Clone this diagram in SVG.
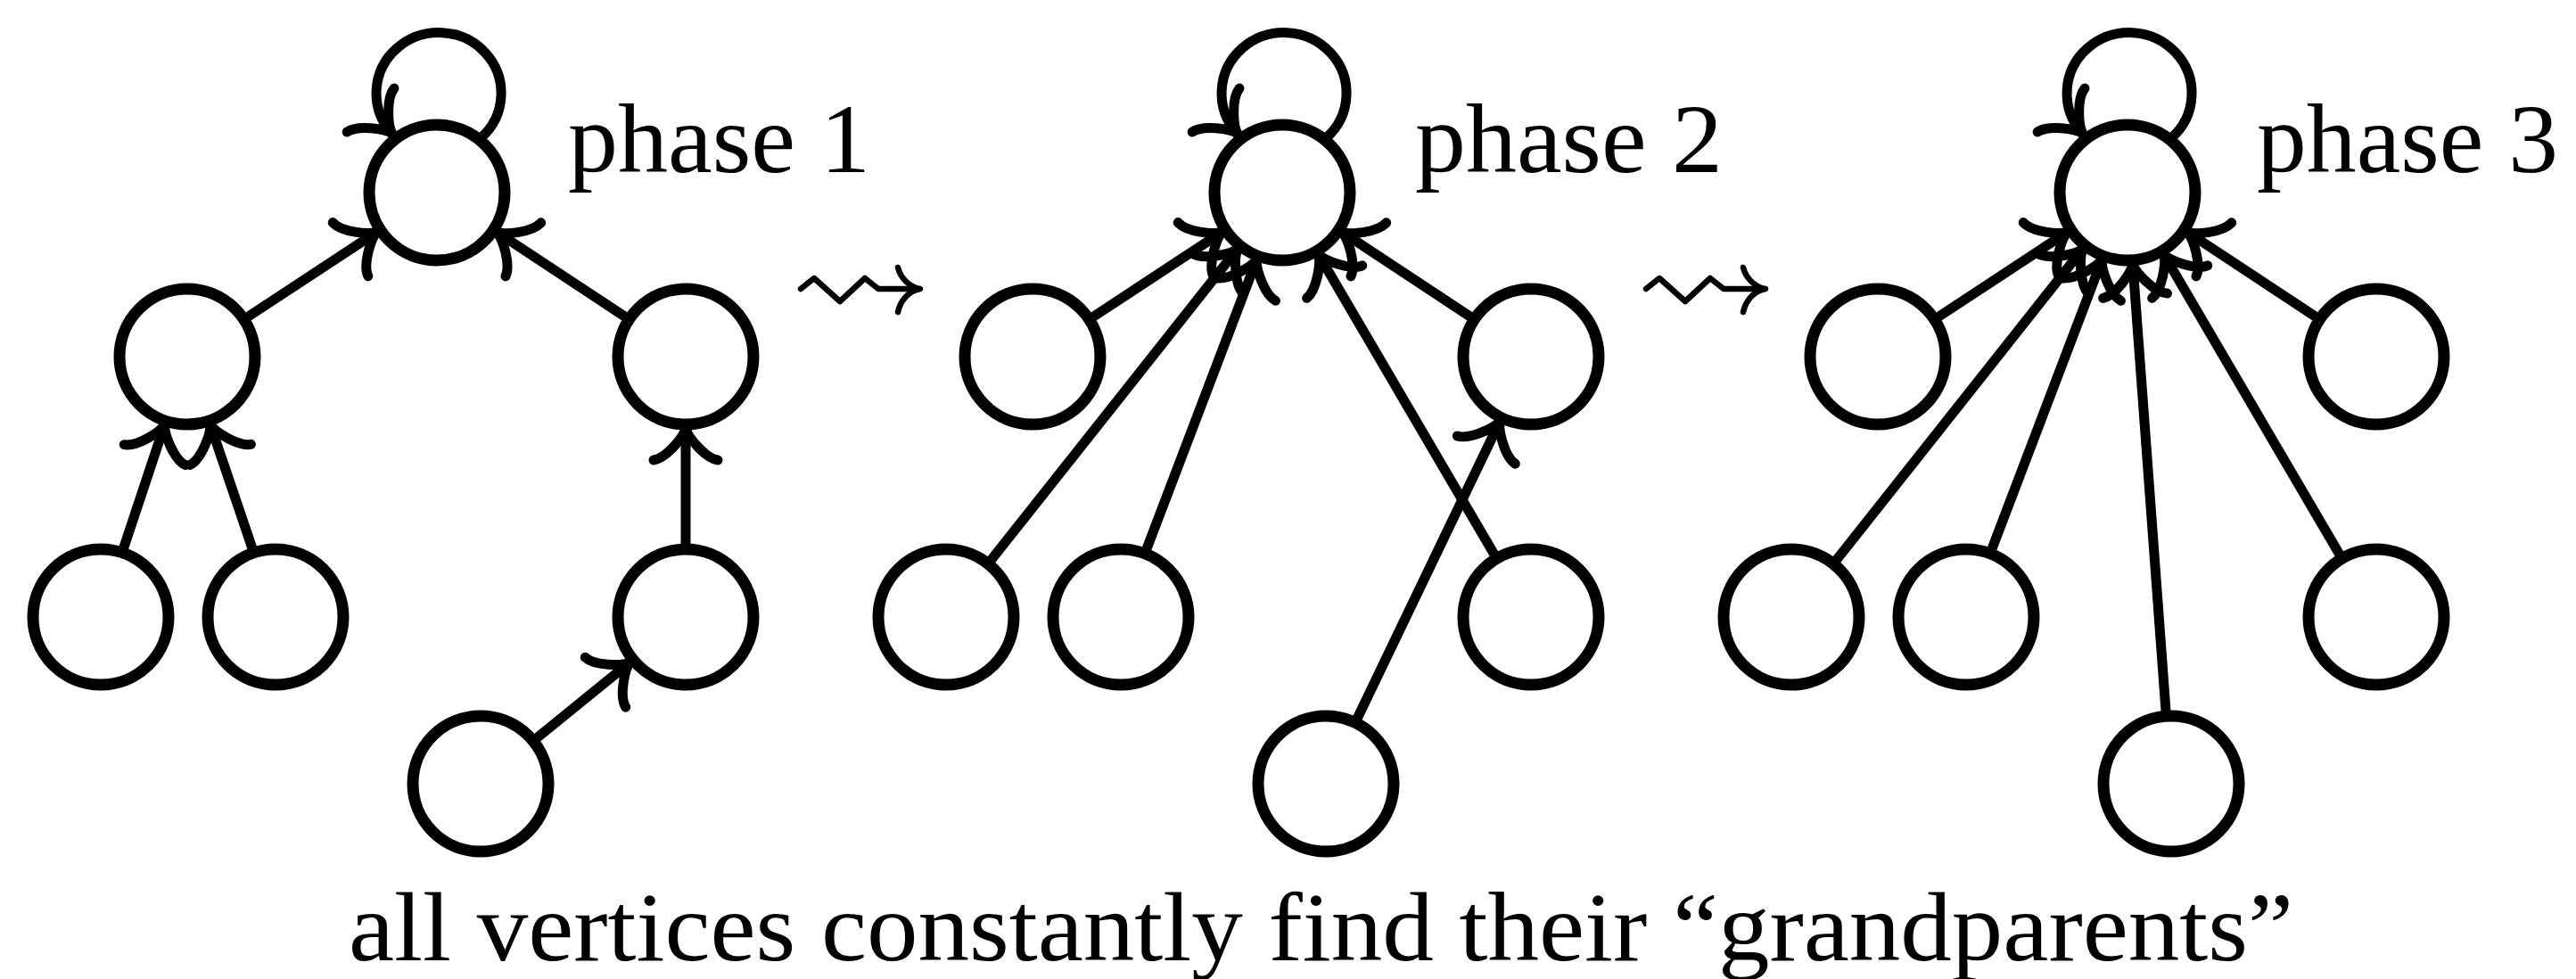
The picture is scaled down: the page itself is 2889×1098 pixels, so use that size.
<svg xmlns="http://www.w3.org/2000/svg" width="2889" height="1098" viewBox="0 0 2889 1098">
  <style>
    .node { fill: #fff; stroke: #000; stroke-width: 13; }
    .edge { fill: none; stroke: #000; stroke-width: 11; marker-end: url(#to); }
    .squig { fill: none; stroke: #000; stroke-width: 6.5; stroke-linejoin: round; stroke-linecap: round; }
    .lbl { font-family: "Liberation Serif", "Times New Roman", serif; font-size: 110px; fill: #000; }
  </style>
  <defs>
    <!-- curved "to" style arrow tip, tip at the origin pointing along +x -->
    <marker id="to" markerUnits="userSpaceOnUse" markerWidth="100" markerHeight="100" viewBox="-50 -50 100 100" refX="0" refY="0" orient="auto" overflow="visible">
      <path d="M -36,-36 C -34,-22 -10,-2 0,0 C -10,2 -34,22 -36,36" fill="none" stroke="#000" stroke-width="11" stroke-linecap="round"/>
    </marker>
  </defs>
  <rect width="2889" height="1098" fill="#fff"/>

  <!-- connectors -->
  <g id="connectors">
    <!-- phase 1 -->
    <path class="edge" d="M 539,155 A 70,68 0 1 0 440,150"/>
    <line class="edge" x1="278.5" y1="355" x2="423.1" y2="259.9"/>
    <line class="edge" x1="700.5" y1="354.9" x2="556.8" y2="260"/>
    <line class="edge" x1="138.8" y1="614.2" x2="184.8" y2="475.9"/>
    <line class="edge" x1="282.7" y1="614.3" x2="235.7" y2="475.8"/>
    <line class="edge" x1="769" y1="610" x2="769" y2="480"/>
    <line class="edge" x1="602.6" y1="827.3" x2="706.9" y2="742.5"/>

    <!-- phase 2 -->
    <path class="edge" d="M 1487,155 A 70,68 0 1 0 1388,150"/>
    <line class="edge" x1="1226.5" y1="355" x2="1371.1" y2="259.9"/>
    <line class="edge" x1="1648.5" y1="354.9" x2="1504.8" y2="260"/>
    <line class="edge" x1="1111.9" y1="627.7" x2="1388.3" y2="278.7"/>
    <line class="edge" x1="1286.1" y1="615.4" x2="1409.6" y2="290.8"/>
    <line class="edge" x1="1675.5" y1="621.3" x2="1478.5" y2="285"/>
    <line class="edge" x1="1522.5" y1="805.1" x2="1682.4" y2="472.1"/>

    <!-- phase 3 -->
    <path class="edge" d="M 2435,155 A 70,68 0 1 0 2336,150"/>
    <line class="edge" x1="2174.5" y1="355" x2="2319.1" y2="259.9"/>
    <line class="edge" x1="2596.5" y1="354.9" x2="2452.8" y2="260"/>
    <line class="edge" x1="2059.9" y1="627.7" x2="2336.3" y2="278.7"/>
    <line class="edge" x1="2234.1" y1="615.4" x2="2357.6" y2="290.8"/>
    <line class="edge" x1="2623.5" y1="621.3" x2="2426.5" y2="285"/>
    <line class="edge" x1="2429" y1="797.2" x2="2391.9" y2="295.8"/>
  </g>

  <!-- phase 1 nodes -->
  <g id="p1-root"><circle class="node" cx="490" cy="216" r="76"/></g>
  <g id="p1-a"><circle class="node" cx="210" cy="400" r="76"/></g>
  <g id="p1-b"><circle class="node" cx="769" cy="400" r="76"/></g>
  <g id="p1-c"><circle class="node" cx="113" cy="692" r="76"/></g>
  <g id="p1-d"><circle class="node" cx="309" cy="692" r="76"/></g>
  <g id="p1-e"><circle class="node" cx="769" cy="692" r="76"/></g>
  <g id="p1-f"><circle class="node" cx="539" cy="879" r="76"/></g>

  <!-- phase 2 nodes -->
  <g id="p2-root"><circle class="node" cx="1438" cy="216" r="76"/></g>
  <g id="p2-a"><circle class="node" cx="1158" cy="400" r="76"/></g>
  <g id="p2-b"><circle class="node" cx="1717" cy="400" r="76"/></g>
  <g id="p2-c"><circle class="node" cx="1061" cy="692" r="76"/></g>
  <g id="p2-d"><circle class="node" cx="1257" cy="692" r="76"/></g>
  <g id="p2-e"><circle class="node" cx="1717" cy="692" r="76"/></g>
  <g id="p2-f"><circle class="node" cx="1487" cy="879" r="76"/></g>

  <!-- phase 3 nodes -->
  <g id="p3-root"><circle class="node" cx="2386" cy="216" r="76"/></g>
  <g id="p3-a"><circle class="node" cx="2106" cy="400" r="76"/></g>
  <g id="p3-b"><circle class="node" cx="2665" cy="400" r="76"/></g>
  <g id="p3-c"><circle class="node" cx="2009" cy="692" r="76"/></g>
  <g id="p3-d"><circle class="node" cx="2205" cy="692" r="76"/></g>
  <g id="p3-e"><circle class="node" cx="2665" cy="692" r="76"/></g>
  <g id="p3-f"><circle class="node" cx="2435" cy="879" r="76"/></g>

  <!-- squiggly transition arrows -->
  <g id="step-1-2">
    <path class="squig" d="M 898,324 L 913,312 L 942,338 L 970,312 L 985,324 L 1029,324"/>
    <path class="squig" d="M 1007,300 C 1010,312 1020,322 1032,324 C 1020,326 1010,336 1007,350"/>
  </g>
  <g id="step-2-3">
    <path class="squig" d="M 1846,324 L 1861,312 L 1890,338 L 1918,312 L 1933,324 L 1977,324"/>
    <path class="squig" d="M 1955,300 C 1958,312 1968,322 1980,324 C 1968,326 1958,336 1955,350"/>
  </g>

  <!-- labels -->
  <text class="lbl" x="637" y="193" textLength="339" lengthAdjust="spacingAndGlyphs">phase 1</text>
  <text class="lbl" x="1587" y="193" textLength="345" lengthAdjust="spacingAndGlyphs">phase 2</text>
  <text class="lbl" x="2531" y="193" textLength="338" lengthAdjust="spacingAndGlyphs">phase 3</text>
  <text class="lbl" x="391" y="1077" textLength="2181" lengthAdjust="spacingAndGlyphs">all vertices constantly find their “grandparents”</text>
</svg>
